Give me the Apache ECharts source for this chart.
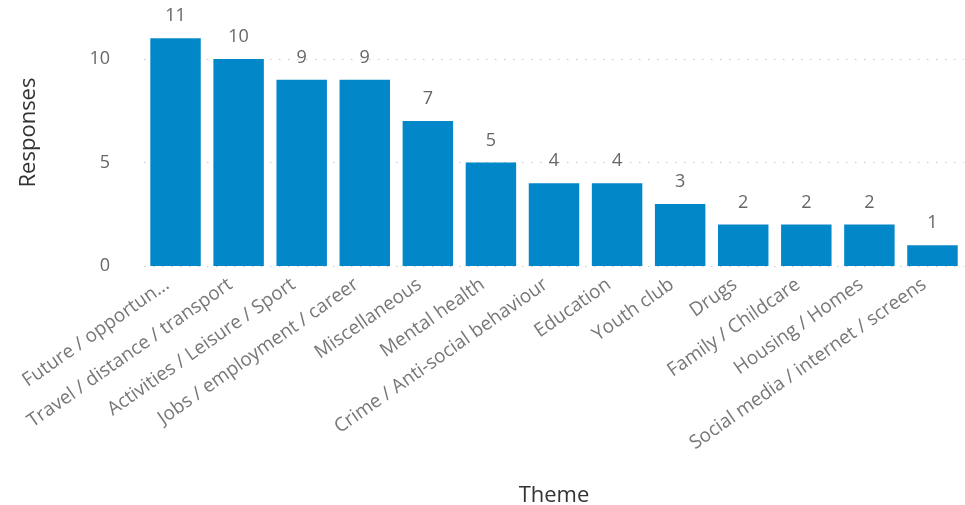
<!DOCTYPE html>
<html>
<head>
<meta charset="utf-8">
<script src="https://cdn.jsdelivr.net/npm/echarts@6/dist/echarts.min.js"></script>
<style>
  html, body { margin: 0; padding: 0; background: #fff; }
  #chart { width: 965px; height: 505px; }
</style>
</head>
<body>
<div id="chart"></div>
<script>
// Survey themes and number of responses per theme
const themes = [
  'Future / opportun...',
  'Travel / distance / transport',
  'Activities / Leisure / Sport',
  'Jobs / employment / career',
  'Miscellaneous',
  'Mental health',
  'Crime / Anti-social behaviour',
  'Education',
  'Youth club',
  'Drugs',
  'Family / Childcare',
  'Housing / Homes',
  'Social media / internet / screens'
];
const responses = [11, 10, 9, 9, 7, 5, 4, 4, 3, 2, 2, 2, 1];
const yTicks = [0, 5, 10];

const font = '"Open Sans", "Noto Sans", sans-serif';
const chart = echarts.init(document.getElementById('chart'), null, { renderer: 'canvas' });

chart.setOption({
  animation: false,
  grid: {
    left: 144, right: 1, top: 59, bottom: 239,
    containLabel: false,
    outerBoundsMode: 'none'
  },
  xAxis: {
    type: 'category',
    data: themes,
    name: 'Theme',
    nameLocation: 'middle',
    nameGap: 219,
    nameTextStyle: { fontFamily: font, fontSize: 22, color: '#333' },
    axisLine: { show: false },
    axisTick: { show: false },
    axisLabel: {
      interval: 0,
      rotate: 35,
      margin: 11,
      padding: [0, 10, 0, 0],
      fontFamily: font,
      fontSize: 19,
      color: '#777'
    }
  },
  yAxis: {
    type: 'value',
    min: yTicks[0],
    max: yTicks[yTicks.length - 1],
    interval: 5,
    name: 'Responses',
    nameLocation: 'middle',
    nameGap: 104,
    nameTextStyle: { fontFamily: font, fontSize: 22, color: '#333', padding: [0, 0, 0, 60] },
    axisLine: { show: false },
    axisTick: { show: false },
    axisLabel: { margin: 34, fontFamily: font, fontSize: 18, color: '#666' },
    splitLine: { show: true, lineStyle: { color: '#c8c8c8', width: 1, type: [1.5, 7.5] } }
  },
  series: [{
    type: 'bar',
    data: responses,
    clip: false,
    barCategoryGap: '20%',
    itemStyle: { color: '#0288C9' },
    label: {
      show: true,
      position: 'top',
      distance: 13,
      fontFamily: font,
      fontSize: 18,
      color: '#666'
    }
  }]
});
</script>
</body>
</html>
